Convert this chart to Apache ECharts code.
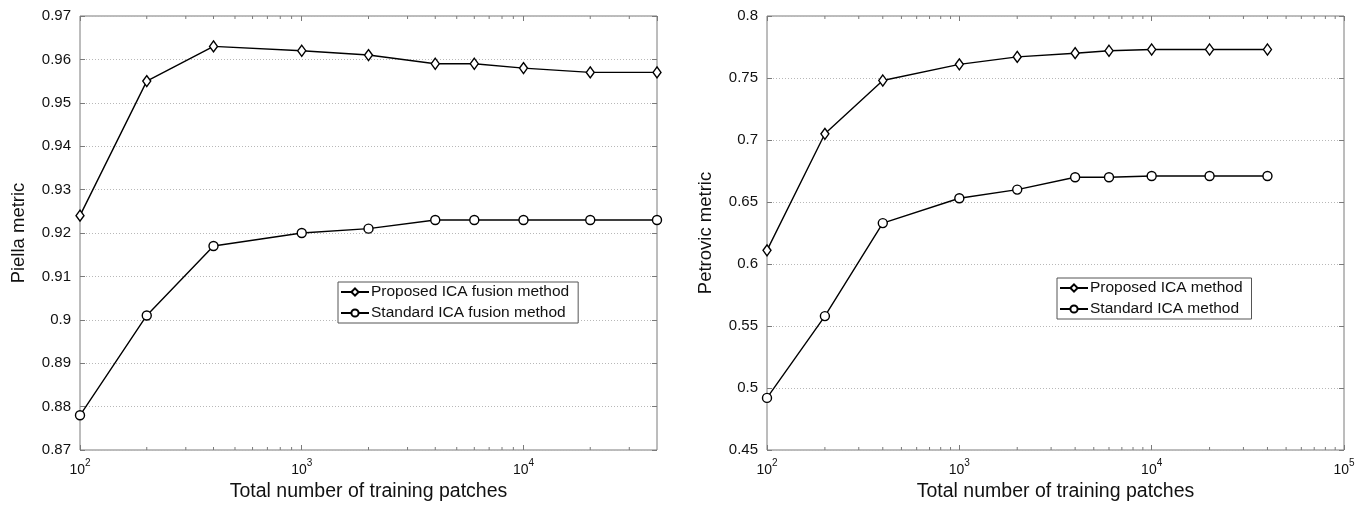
<!DOCTYPE html>
<html>
<head>
<meta charset="utf-8">
<script src="https://cdn.jsdelivr.net/npm/echarts@6/dist/echarts.min.js"></script>
<style>
  html, body { margin: 0; padding: 0; background: #fff; }
  #chart { width: 1370px; height: 515px; }
</style>
</head>
<body>
<div id="chart"></div>
<script>
// training patch counts (x) shared by both plots
const patches = [100, 200, 400, 1000, 2000, 4000, 6000, 10000, 20000, 40000];
// left plot: Piella metric
const piellaProposed = [0.924, 0.955, 0.963, 0.962, 0.961, 0.959, 0.959, 0.958, 0.957, 0.957];
const piellaStandard = [0.878, 0.901, 0.917, 0.920, 0.921, 0.923, 0.923, 0.923, 0.923, 0.923];
// right plot: Petrovic metric
const petrovicProposed = [0.611, 0.705, 0.748, 0.761, 0.767, 0.770, 0.772, 0.773, 0.773, 0.773];
const petrovicStandard = [0.492, 0.558, 0.633, 0.653, 0.660, 0.670, 0.670, 0.671, 0.671, 0.671];
// minor log ticks
const minorTicks = [200, 300, 400, 500, 600, 700, 800, 900,
  2000, 3000, 4000, 5000, 6000, 7000, 8000, 9000,
  20000, 30000, 40000, 50000, 60000, 70000, 80000, 90000];

const FONT = '"Liberation Sans", Arial, Helvetica, sans-serif';
const frameColor = '#7a7a7a';

const chart = echarts.init(document.getElementById('chart'));

function pow10Label(v) {
  const e = Math.log10(v);
  if (Math.abs(e - Math.round(e)) > 1e-6) return '';
  return '{b|10}{s|' + Math.round(e) + '}';
}

function bottomX(gridIndex, max) {
  return {
    type: 'log', logBase: 10, gridIndex: gridIndex, min: 100, max: max,
    position: 'bottom',
    name: 'Total number of training patches',
    nameLocation: 'middle', nameGap: 30,
    nameTextStyle: { fontFamily: FONT, fontSize: 19.5, color: '#111' },
    axisLine: { show: false },
    axisTick: { inside: true, length: 5, lineStyle: { color: frameColor } },
    splitLine: { show: false },
    axisLabel: {
      formatter: pow10Label, margin: 8, showMaxLabel: max === 100000,
      rich: {
        b: { fontFamily: FONT, fontSize: 14, color: '#111', lineHeight: 19, verticalAlign: 'bottom' },
        s: { fontFamily: FONT, fontSize: 10, color: '#111', lineHeight: 10, verticalAlign: 'top' }
      }
    }
  };
}
function topX(gridIndex, max) {
  return {
    type: 'log', logBase: 10, gridIndex: gridIndex, min: 100, max: max,
    position: 'top',
    axisLine: { show: false },
    axisTick: { inside: true, length: 5, lineStyle: { color: frameColor } },
    axisLabel: { show: false }, splitLine: { show: false }
  };
}
function leftY(gridIndex, min, max, step, name) {
  return {
    type: 'value', gridIndex: gridIndex, min: min, max: max, interval: step,
    position: 'left',
    name: name, nameLocation: 'middle', nameGap: 52,
    nameTextStyle: { fontFamily: FONT, fontSize: 18.5, color: '#111' },
    axisLine: { show: false },
    axisTick: { inside: true, length: 5, lineStyle: { color: frameColor } },
    axisLabel: { fontFamily: FONT, fontSize: 15, color: '#111', margin: 9 },
    splitLine: { show: true, lineStyle: { color: '#b8b8b8', type: [1, 2], width: 1 } }
  };
}
function rightY(gridIndex, min, max, step) {
  return {
    type: 'value', gridIndex: gridIndex, min: min, max: max, interval: step,
    position: 'right',
    axisLine: { show: false },
    axisTick: { inside: true, length: 5, lineStyle: { color: frameColor } },
    axisLabel: { show: false }, splitLine: { show: false }
  };
}

function lineSeries(name, xi, yi, values, symbol, size) {
  return {
    name: name, type: 'line', xAxisIndex: xi, yAxisIndex: yi,
    data: patches.map((x, i) => [x, values[i]]),
    symbol: symbol, symbolSize: size, showAllSymbol: true,
    lineStyle: { color: '#000', width: 1.4 },
    itemStyle: { color: '#fff', borderColor: '#000', borderWidth: 1.4 },
    z: 5
  };
}

// short minor ticks along top and bottom frame
function minorTickSeries(xi, yi, yMin, yMax, xMax) {
  return {
    type: 'custom', xAxisIndex: xi, yAxisIndex: yi, silent: true,
    data: minorTicks.filter(v => v < xMax),
    renderItem: function (params, api) {
      const x = api.value(0);
      const b = api.coord([x, yMin]);
      const t = api.coord([x, yMax]);
      const st = { stroke: frameColor, lineWidth: 1 };
      return {
        type: 'group',
        children: [
          { type: 'line', shape: { x1: b[0], y1: b[1], x2: b[0], y2: b[1] - 3 }, style: st },
          { type: 'line', shape: { x1: t[0], y1: t[1], x2: t[0], y2: t[1] + 3 }, style: st }
        ]
      };
    },
    encode: { x: 0 }
  };
}

function legendBox(left, top, names) {
  return {
    data: names, orient: 'vertical', left: left, top: top,
    itemWidth: 28, itemHeight: 9, itemGap: 3,
    padding: [1, 9, 1, 2],
    backgroundColor: '#fff', borderColor: '#555', borderWidth: 1,
    textStyle: { fontFamily: FONT, fontSize: 15.5, color: '#111', padding: [0, 0, 0, -3], lineHeight: 18 },
    selectedMode: false
  };
}

const option = {
  animation: false,
  backgroundColor: '#fff',
  grid: [
    { left: 80, top: 16, width: 577, height: 434, show: true, borderColor: frameColor, borderWidth: 1, backgroundColor: 'transparent' },
    { left: 767, top: 16, width: 577, height: 434, show: true, borderColor: frameColor, borderWidth: 1, backgroundColor: 'transparent' }
  ],
  xAxis: [bottomX(0, 40000), topX(0, 40000), bottomX(1, 100000), topX(1, 100000)],
  yAxis: [
    leftY(0, 0.87, 0.97, 0.01, 'Piella metric'), rightY(0, 0.87, 0.97, 0.01),
    leftY(1, 0.45, 0.8, 0.05, 'Petrovic metric'), rightY(1, 0.45, 0.8, 0.05)
  ],
  legend: [
    legendBox(338, 282, ['Proposed ICA fusion method', 'Standard ICA fusion method']),
    legendBox(1057, 278, ['Proposed ICA method', 'Standard ICA method'])
  ],
  series: [
    lineSeries('Proposed ICA fusion method', 0, 0, piellaProposed, 'diamond', [8, 11]),
    lineSeries('Standard ICA fusion method', 0, 0, piellaStandard, 'circle', 9),
    lineSeries('Proposed ICA method', 2, 2, petrovicProposed, 'diamond', [8, 11]),
    lineSeries('Standard ICA method', 2, 2, petrovicStandard, 'circle', 9),
    minorTickSeries(0, 0, 0.87, 0.97, 40000),
    minorTickSeries(2, 2, 0.45, 0.8, 100000)
  ]
};
chart.setOption(option);
</script>
</body>
</html>
